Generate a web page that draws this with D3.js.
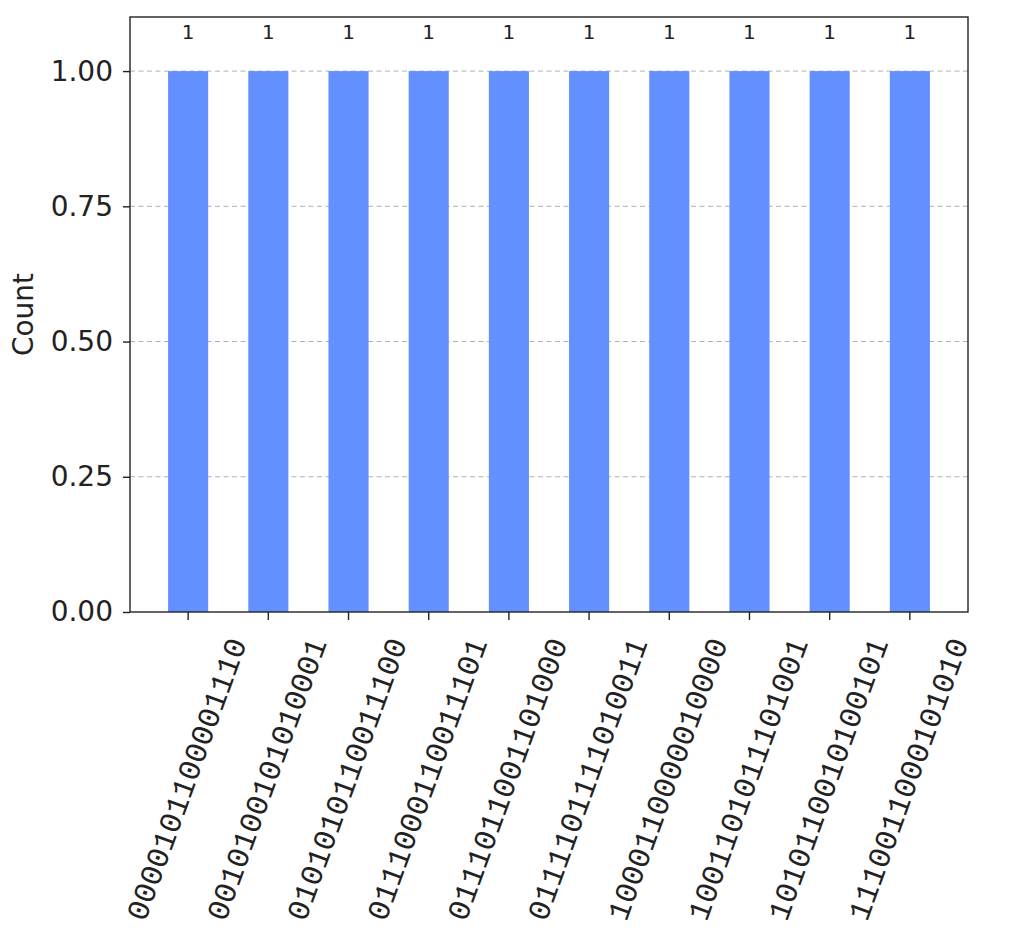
<!DOCTYPE html>
<html><head><meta charset="utf-8">
<script src="https://d3js.org/d3.v7.min.js"></script>
<style>body{margin:0;background:#fff}</style>
</head><body>
<script>
const categories = ["0000101100001110","0010100101010001","0101010110011100","0111000110011101","0111011001101000","0111101111010011","1000110000010000","1001101011101001","1010110010100101","1110011000101010"];
const counts = [1,1,1,1,1,1,1,1,1,1];
const yTicks = [0,0.25,0.5,0.75,1.0];

const W = 1023, H = 946;
const m = {left:130, right:968, top:17, bottom:612};
const svg = d3.select("body").append("svg").attr("width",W).attr("height",H);

const x = d3.scaleBand().domain(categories).range([m.left,m.right]).paddingInner(0.5).paddingOuter(0.475);
const y = d3.scaleLinear().domain([0,1.1]).range([m.bottom,m.top]);

// grid
svg.append("g").selectAll("line").data(yTicks.filter(d=>d>0)).join("line")
  .attr("x1",m.left).attr("x2",m.right).attr("y1",d=>y(d)).attr("y2",d=>y(d))
  .attr("stroke","#b0b0b0").attr("stroke-width",1).attr("stroke-dasharray","5,3.5");

// bars
svg.append("g").selectAll("rect").data(categories).join("rect")
  .attr("x",d=>x(d)).attr("width",x.bandwidth())
  .attr("y",(d,i)=>y(counts[i])).attr("height",(d,i)=>y(0)-y(counts[i]))
  .attr("fill","#648FFF");

// value labels
svg.append("g").selectAll("text").data(categories).join("text")
  .attr("x",d=>x(d)+x.bandwidth()/2).attr("y",(d,i)=>y(counts[i])-32)
  .attr("text-anchor","middle").attr("font-family","DejaVu Sans").attr("font-size",20)
  .attr("fill","#222").text((d,i)=>counts[i]);

// frame
svg.append("rect").attr("x",m.left).attr("y",m.top).attr("width",m.right-m.left).attr("height",m.bottom-m.top)
  .attr("fill","none").attr("stroke","#222").attr("stroke-width",1.4);

// y axis
const yAxis = d3.axisLeft(y).tickValues(yTicks).tickFormat(d3.format(".2f")).tickSize(7).tickPadding(10);
const gy = svg.append("g").attr("transform",`translate(${m.left},0)`).call(yAxis);
gy.select(".domain").remove();
gy.selectAll("line").attr("stroke","#222").attr("stroke-width",1.4);
gy.selectAll("text").attr("font-family","DejaVu Sans").attr("font-size",28).attr("fill","#222");

// x axis
const xAxis = d3.axisBottom(x).tickSize(8).tickFormat("");
const gx = svg.append("g").attr("transform",`translate(0,${m.bottom})`).call(xAxis);
gx.select(".domain").remove();
gx.selectAll("line").attr("stroke","#222").attr("stroke-width",1.4);

// rotated x labels (centered bbox, like matplotlib rotation=70)
const fs = 31, ang = 70*Math.PI/180;
const lg = svg.append("g");
categories.forEach(c=>{
  const t = lg.append("text").style("font-family","'Liberation Mono', 'Courier New', monospace").attr("font-size",fs)
    .attr("fill","#222").attr("text-anchor","middle").attr("dominant-baseline","central").text(c);
  const L = t.node().getComputedTextLength();
  const bh = L*Math.sin(ang) + fs*0.9*Math.cos(ang);
  const cx = x(c)+x.bandwidth()/2, cy = m.bottom + 8 + 15 + bh/2;
  t.attr("transform",`translate(${cx},${cy}) rotate(-70)`);
});

// y label
svg.append("text").attr("transform",`translate(33,${(m.top+m.bottom)/2}) rotate(-90)`)
  .attr("text-anchor","middle").attr("font-family","DejaVu Sans").attr("font-size",28).attr("fill","#222").text("Count");
</script>
</body></html>
